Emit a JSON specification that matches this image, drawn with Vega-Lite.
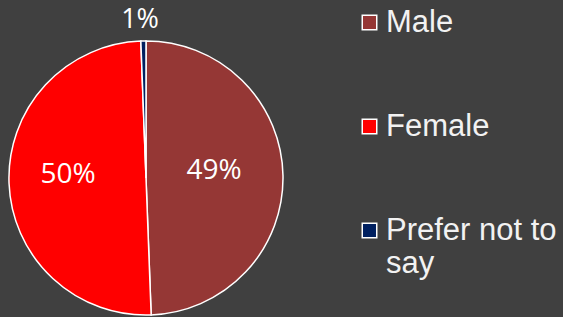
{
  "$schema": "https://vega.github.io/schema/vega-lite/v6.json",
  "width": 276,
  "height": 276,
  "padding": {"top": 40, "left": 8, "right": 279, "bottom": 1},
  "autosize": {"type": "none"},
  "background": "#404040",
  "config": {"view": {"stroke": null}},
  "data": {
    "values": [
      {"g": "Male", "v": 49.4, "l": "49%", "o": 1},
      {"g": "Female", "v": 50.0, "l": "50%", "o": 2},
      {"g": "Prefer not to say", "v": 0.6, "l": "1%", "o": 3}
    ]
  },
  "encoding": {
    "theta": {"field": "v", "type": "quantitative", "stack": true},
    "order": {"field": "o", "type": "quantitative"}
  },
  "layer": [
    {
      "mark": {"type": "arc", "outerRadius": 137, "stroke": "white", "strokeWidth": 1.5},
      "encoding": {
        "color": {
          "field": "g",
          "type": "nominal",
          "scale": {"domain": ["Male", "Female", "Prefer not to say"], "range": ["#953735", "#FF0000", "#002060"]},
          "legend": {
            "orient": "none",
            "legendX": 346,
            "legendY": -33,
            "title": null,
            "symbolType": "square",
            "symbolSize": 210,
            "symbolStrokeColor": "white",
            "symbolStrokeWidth": 1.5,
            "symbolOpacity": 1,
            "labelFont": "Liberation Sans",
            "labelFontSize": 31,
            "labelLineHeight": 37,
            "labelColor": "#f2f2f2",
            "labelLimit": 300,
            "labelOffset": 1,
            "rowPadding": 72,
            "labelExpr": "datum.label == 'Prefer not to say' ? ['Prefer not to', 'say'] : datum.label"
          }
        }
      }
    },
    {
      "mark": {"type": "text", "radius": 73, "dx": -5, "dy": -6, "font": "Open Sans", "fontSize": 28, "fill": "white"},
      "encoding": {
        "text": {"condition": {"test": "datum.o < 3", "field": "l"}, "value": ""}
      }
    },
    {
      "mark": {"type": "text", "radius": 158, "dx": -3, "font": "Open Sans", "fontSize": 27, "fill": "white"},
      "encoding": {
        "text": {"condition": {"test": "datum.o == 3", "field": "l"}, "value": ""}
      }
    }
  ]
}
